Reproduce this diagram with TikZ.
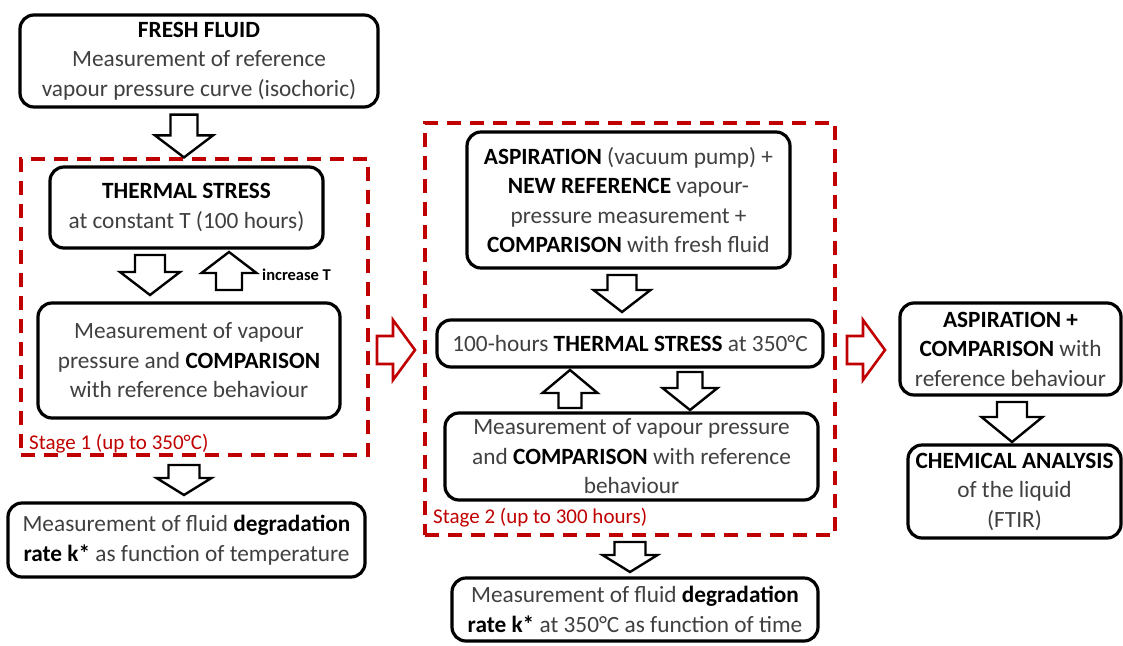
\documentclass[tikz,border=0pt]{standalone}
\usepackage{fontspec}
\setmainfont{Carlito}
\usetikzlibrary{calc}
\definecolor{dred}{HTML}{C00000}
\definecolor{txt}{HTML}{404040}
\newcommand{\bt}[1]{{\bfseries\color{black}#1}}
% block arrow: [style]{start}{end}{half shaft}{half head}{head length}
\newcommand{\blk}[6][]{%
  \draw[blkarrow,#1] ($(#2)!#4!90:(#3)$) -- ($(#3)!#6!(#2)!#4!-90:(#2)$)
    -- ($(#3)!#6!(#2)!#5!-90:(#2)$) -- (#3) -- ($(#3)!#6!(#2)!#5!90:(#2)$)
    -- ($(#3)!#6!(#2)!#4!90:(#2)$) -- ($(#2)!#4!-90:(#3)$) -- cycle;}
\begin{document}
\begin{tikzpicture}[x=1pt,y=-1pt,
  box/.style={draw=black, line width=3.2pt, rounded corners=14pt, fill=white,
    align=center, text=txt, inner sep=0pt,
    font=\fontsize{23.3}{29.5}\selectfont},
  stage/.style={draw=dred, line width=3.2pt, dash pattern=on 14pt off 9pt,
    inner sep=0pt},
  stagelbl/.style={text=dred, anchor=west, inner sep=0pt,
    font=\fontsize{21}{25}\selectfont},
  blkarrow/.style={draw=black, fill=white, line width=2.4pt, line join=miter},
  redarrow/.style={draw=dred, line width=2.6pt}]
\useasboundingbox (0,0) rectangle (1123,645);

% ---------- column 1 ----------
\node[box, minimum width=358pt, minimum height=92pt] (fresh) at (199,61)
  {\bt{FRESH FLUID}\\Measurement of reference\\vapour pressure curve (isochoric)};
\node[stage, minimum width=347pt, minimum height=296pt] (st1) at (194.5,307) {};
\node[box, minimum width=273pt, minimum height=81pt] (ts) at (186.5,207.5)
  {\bt{THERMAL STRESS}\\at constant T (100 hours)};
\node[box, minimum width=302pt, minimum height=115pt] (m1) at (189,360.5)
  {Measurement of vapour\\pressure and \bt{COMPARISON}\\with reference behaviour};
\node[stagelbl] (s1l) at (29,444) {Stage 1 (up to 350°C)};
\node[anchor=west, inner sep=0pt, font=\bfseries\fontsize{16.5}{19}\selectfont] (inc) at (262,275) {increase T};
\node[box, minimum width=357pt, minimum height=74pt] (deg1) at (186.5,540)
  {Measurement of fluid \bt{degradation}\\\bt{rate k*} as function of temperature};

% ---------- column 2 ----------
\node[stage, minimum width=410pt, minimum height=412pt] (st2) at (630,329) {};
\node[box, minimum width=323pt, minimum height=136pt] (asp) at (628.5,200)
  {\bt{ASPIRATION} (vacuum pump) +\\\bt{NEW REFERENCE} vapour-\\pressure measurement +\\\bt{COMPARISON} with fresh fluid};
\node[box, minimum width=386pt, minimum height=47pt] (ts2) at (630,343.5)
  {100-hours \bt{THERMAL STRESS} at 350°C};
\node[box, minimum width=373pt, minimum height=87pt] (m2) at (631.5,456.5)
  {Measurement of vapour pressure\\and \bt{COMPARISON} with reference\\behaviour};
\node[stagelbl] (s2l) at (433,518) {Stage 2 (up to 300 hours)};
\node[box, minimum width=366pt, minimum height=63pt] (deg2) at (635,609.5)
  {Measurement of fluid \bt{degradation}\\\bt{rate k*} at 350°C as function of time};

% ---------- column 3 ----------
\node[box, minimum width=221pt, minimum height=92pt] (asp3) at (1010.5,349)
  {\bt{ASPIRATION +}\\\bt{COMPARISON} with\\reference behaviour};
\node[box, minimum width=213pt, minimum height=93pt] (chem) at (1014.5,491.5)
  {\bt{CHEMICAL ANALYSIS}\\of the liquid\\(FTIR)};

% ---------- arrow end points ----------
\coordinate (a1s) at ($(fresh.south)+(-15,6)$);
\coordinate (a1e) at (a1s |- st1.north);
\coordinate (a2s) at (150,255);   \coordinate (a2e) at (150,295);
\coordinate (a3s) at (229,290);   \coordinate (a3e) at (229,252);
\coordinate (a4s) at (184,465);   \coordinate (a4e) at (184,495);
\coordinate (r1s) at (377,350);   \coordinate (r1e) at (415,350);
\coordinate (a5s) at (622,275);   \coordinate (a5e) at (622,312);
\coordinate (a6s) at (570,408);   \coordinate (a6e) at (570,370);
\coordinate (a7s) at (690,372);   \coordinate (a7e) at (690,410);
\coordinate (a8s) at (630,542);   \coordinate (a8e) at (630,572);
\coordinate (r2s) at (847,350);   \coordinate (r2e) at (885,350);
\coordinate (a9s) at (1012,402);  \coordinate (a9e) at (1012,442);

% ---------- block arrows ----------
\blk{a1s}{a1e}{13.5pt}{29pt}{22pt}
\blk{a2s}{a2e}{15pt}{30pt}{23pt}
\blk{a3s}{a3e}{13pt}{27.5pt}{21pt}
\blk{a4s}{a4e}{15.5pt}{27.5pt}{17pt}
\blk[redarrow]{r1s}{r1e}{14pt}{30pt}{22pt}
\blk{a5s}{a5e}{14.5pt}{28.5pt}{22pt}
\blk{a6s}{a6e}{11.5pt}{27.5pt}{23pt}
\blk{a7s}{a7e}{12.5pt}{27.5pt}{22pt}
\blk{a8s}{a8e}{15.5pt}{27.5pt}{17pt}
\blk[redarrow]{r2s}{r2e}{14pt}{30pt}{22pt}
\blk{a9s}{a9e}{15pt}{30.5pt}{25pt}
\end{tikzpicture}
\end{document}
